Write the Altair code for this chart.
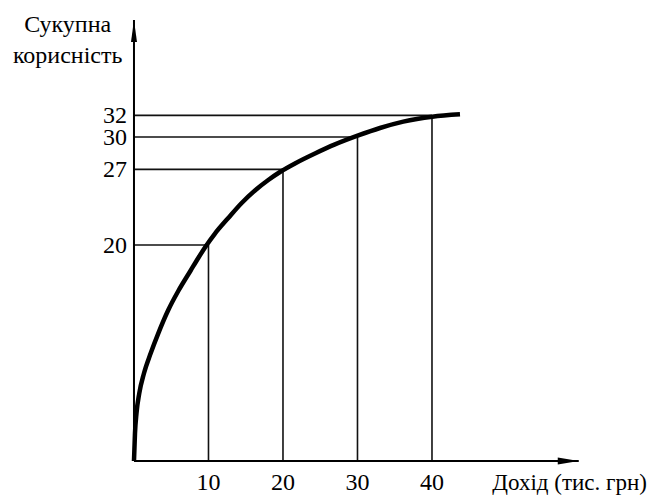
import altair as alt
import pandas as pd

# Marked points (income, utility)
income = [10, 20, 30, 40]
utility = [20, 27, 30, 32]

# Total utility curve
curve_x = [0, 0.134, 0.336, 0.711, 1.342, 2.242, 3.262, 4.604, 5.946, 7.611, 8.631, 9.664,
           10.872, 12.658, 14.456, 16.242, 18.027, 19.597, 21.611, 24.295, 26.98, 30.107,
           33.02, 36.148, 40.04, 43.758]
curve_y = [0, 2.56, 4.42, 6.27, 8.12, 9.97, 11.82, 13.98, 15.74, 17.64, 18.80, 19.91,
           21.06, 22.50, 23.89, 25.05, 26.02, 26.76, 27.55, 28.47, 29.31, 30.14,
           30.83, 31.42, 31.88, 32.1]

x_tick_labels = ["10", "20", "30", "40"]
y_tick_labels = ["20", "27", "30", "32"]

x_title = "Дохід (тис. грн)"
y_title = ["Сукупна", "корисність"]

# Axis extents and text anchors (data units)
x_axis_end = 59.7
y_axis_end = 40.83
x_title_pos = 48.1
y_title_pos = (-8.9, 39.75)

X_DOMAIN = [-16.91, 68.86]
Y_DOMAIN = [-3.43, 41.944]

FONT = "Liberation Serif"
FS = 24

xs = alt.Scale(domain=X_DOMAIN, nice=False, zero=False)
ys = alt.Scale(domain=Y_DOMAIN, nice=False, zero=False)

curve_df = pd.DataFrame({"x": curve_x, "y": curve_y, "i": list(range(len(curve_x)))})
pts_df = pd.DataFrame({"x": income, "y": utility, "zero": [0] * 4,
                       "xl": x_tick_labels, "yl": y_tick_labels})
axes_df = pd.DataFrame({"x": [0, 0], "y": [0, 0], "x2": [x_axis_end, 0], "y2": [0, y_axis_end]})


def X(f):
    return alt.X(f, type="quantitative", scale=xs, axis=None)


def Y(f):
    return alt.Y(f, type="quantitative", scale=ys, axis=None)


hlines = alt.Chart(pts_df).mark_rule(color="#111", strokeWidth=1.6).encode(
    x=X("zero"), x2="x", y=Y("y"))
vlines = alt.Chart(pts_df).mark_rule(color="#111", strokeWidth=1.6).encode(
    x=X("x"), y=Y("zero"), y2="y")

axes = alt.Chart(axes_df).mark_rule(color="black", strokeWidth=2).encode(
    x=X("x"), y=Y("y"), x2="x2", y2="y2")

arrow_up = alt.Chart(pd.DataFrame({"x": [0], "y": [y_axis_end]})).mark_point(
    shape="M0,0L0.3,2.2L-0.3,2.2Z", size=400, filled=True, color="black", opacity=1,
    strokeWidth=0).encode(x=X("x"), y=Y("y"))
arrow_right = alt.Chart(pd.DataFrame({"x": [x_axis_end], "y": [0]})).mark_point(
    shape="M0,0L-2.1,-0.35L-2.1,0.35Z", size=400, filled=True, color="black", opacity=1,
    strokeWidth=0).encode(x=X("x"), y=Y("y"))

curve = alt.Chart(curve_df).mark_line(color="black", strokeWidth=4.5, interpolate="monotone",
                                      strokeCap="butt").encode(
    x=X("x"), y=Y("y"), order="i:Q")

xlab = alt.Chart(pts_df).mark_text(font=FONT, fontSize=FS, baseline="alphabetic", dy=29,
                                   color="black").encode(x=X("x"), y=Y("zero"), text="xl")
ylab = alt.Chart(pts_df).mark_text(font=FONT, fontSize=FS, align="right", baseline="alphabetic",
                                   dx=-7, dy=8, color="black").encode(x=X("zero"), y=Y("y"), text="yl")

xtitle = alt.Chart(pd.DataFrame({"x": [x_title_pos], "y": [0], "t": [x_title]})).mark_text(
    font=FONT, fontSize=23, align="left", baseline="alphabetic", dy=29, color="black").encode(
    x=X("x"), y=Y("y"), text="t")

ytitle = alt.Chart(pd.DataFrame({"x": [y_title_pos[0]], "y": [y_title_pos[1]],
                                 "t": ["\n".join(y_title)]})).mark_text(
    font=FONT, fontSize=FS, align="center", baseline="alphabetic", lineBreak="\n",
    lineHeight=31.6, color="black").encode(x=X("x"), y=Y("y"), text="t")

chart = alt.layer(hlines, vlines, axes, arrow_up, arrow_right, curve, xlab, ylab, xtitle, ytitle).properties(
    width=639, height=490, padding=0,
    autosize=alt.AutoSizeParams(type="none"),
).configure_view(stroke=None)

chart.save("out.html", embed_options={"renderer": "svg", "actions": False})
